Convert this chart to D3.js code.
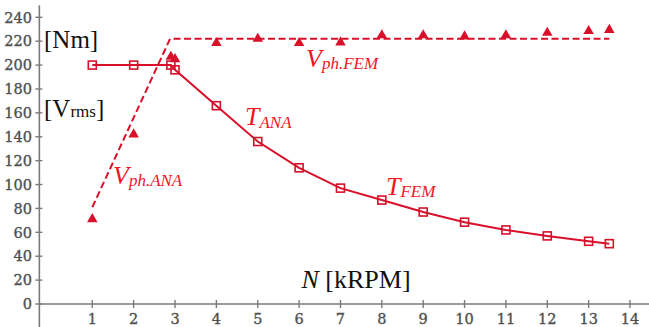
<!DOCTYPE html>
<html><head><meta charset="utf-8">
<script src="https://cdn.jsdelivr.net/npm/d3@7"></script>
<style>html,body{margin:0;padding:0;background:#fff;overflow:hidden}
.tick{font-family:"DejaVu Serif","Liberation Serif",serif}
.lbl{font-family:"Liberation Serif","Times New Roman",serif}
</style>
</head><body>
<svg id="chart" width="649" height="327"></svg>
<script>
// ---- data ----
const xTicks = [1,2,3,4,5,6,7,8,9,10,11,12,13,14];
const yTicks = [0,20,40,60,80,100,120,140,160,180,200,220,240];
const torqueN = [1,2,2.9,3,4,5,6,7,8,9,10,11,12,13,13.5];
const torqueT = [200,200,200,196,166,136,114,97,87,77,68.5,62,57,52.5,50.5];
const vFemN = [1,2,2.9,3,4,5,6,7,8,9,10,11,12,13,13.5];
const vFemV = [71,142,207,205,218.5,222,218.5,219,225,225,224,225,227,228.5,229.5];
const vAnaN = [1,2.88,13.5];
const vAnaV = [81,222,222];

const red = "#d8102a", labelRed = "#f5141e", axisGray = "#7a7a7a", tickGray = "#505050";
const svg = d3.select("#chart");
const x = d3.scaleLinear().domain([1,14]).range([92.3,630]);
const y = d3.scaleLinear().domain([0,240]).range([304,17.3]);

// axes lines
svg.append("line").attr("x1", x(-0.28)).attr("x2", 649).attr("y1", y(0)).attr("y2", y(0))
  .attr("stroke", axisGray).attr("stroke-width", 1.6);
svg.append("line").attr("x1", x(-0.28)).attr("x2", x(-0.28)).attr("y1", y(250)).attr("y2", 327)
  .attr("stroke", axisGray).attr("stroke-width", 1.6);

// y ticks
const yt = svg.append("g");
yTicks.forEach(v => {
  yt.append("line").attr("x1", x(-0.28)-4).attr("x2", x(-0.28)+3).attr("y1", y(v)).attr("y2", y(v))
    .attr("stroke", axisGray).attr("stroke-width", 1.4);
  yt.append("text").attr("class","tick").attr("x", 32).attr("y", y(v)).attr("dy", "0.36em").attr("text-anchor", "end")
    .attr("font-size", 14.5).attr("fill", tickGray).attr("stroke", tickGray).attr("stroke-width", 0.35).text(v);
});
// x ticks
const xt = svg.append("g");
xTicks.forEach(v => {
  xt.append("line").attr("x1", x(v)).attr("x2", x(v)).attr("y1", y(0)-4).attr("y2", y(0)+4)
    .attr("stroke", axisGray).attr("stroke-width", 1.4);
  xt.append("text").attr("class","tick").attr("x", x(v)).attr("y", 324).attr("text-anchor", "middle")
    .attr("font-size", 14.5).attr("fill", tickGray).attr("stroke", tickGray).attr("stroke-width", 0.35).text(v);
});

// lines
const line = d3.line().x(d => x(d[0])).y(d => y(d[1]));
svg.append("path").datum(vAnaN.map((n,i)=>[n,vAnaV[i]])).attr("d", line)
  .attr("fill","none").attr("stroke", red).attr("stroke-width", 2).attr("stroke-dasharray","7,3.5");
svg.append("path").datum(torqueN.map((n,i)=>[n,torqueT[i]])).attr("d", line)
  .attr("fill","none").attr("stroke", red).attr("stroke-width", 2);

// square markers
svg.append("g").selectAll("rect").data(torqueN.map((n,i)=>[n,torqueT[i]])).join("rect")
  .attr("x", d => x(d[0])-4).attr("y", d => y(d[1])-4).attr("width", 8).attr("height", 8)
  .attr("fill","none").attr("stroke", red).attr("stroke-width", 1.6);
// triangle markers
const tri = d3.symbol().type(d3.symbolTriangle).size(48);
svg.append("g").selectAll("path").data(vFemN.map((n,i)=>[n,vFemV[i]])).join("path")
  .attr("d", tri).attr("transform", d => `translate(${x(d[0])},${y(d[1])})`)
  .attr("fill", red);

// labels
function lab(xp, yp, main, sub, color, mainSize, subSize, subDy) {
  const t = svg.append("text").attr("class","lbl").attr("x", xp).attr("y", yp).attr("fill", color);
  t.append("tspan").attr("font-size", mainSize).attr("font-style", "italic").text(main);
  t.append("tspan").attr("font-size", subSize).attr("font-style", "italic").attr("dy", subDy).text(sub);
  return t;
}
lab(245, 125, "T", "ANA", labelRed, 26, 17, 2.5);
lab(113, 183.5, "V", "ph.ANA", labelRed, 26, 17, 2.5);
lab(306, 66.5, "V", "ph.FEM", labelRed, 26, 17, 2.5);
lab(386, 195, "T", "FEM", labelRed, 26, 17, 1.5);

// black unit labels
svg.append("text").attr("class","lbl").attr("x", 44).attr("y", 48)
  .attr("font-size", 25).attr("fill","#111").text("[Nm]");
const vr = svg.append("text").attr("class","lbl").attr("x", 44).attr("y", 116.5).attr("fill","#111");
vr.append("tspan").attr("font-size", 25).text("[V");
vr.append("tspan").attr("font-size", 17).text("rms");
vr.append("tspan").attr("font-size", 25).text("]");
const xl = svg.append("text").attr("class","lbl").attr("x", 301.5).attr("y", 287.5).attr("fill","#111");
xl.append("tspan").attr("font-size", 26).attr("font-style","italic").text("N");
xl.append("tspan").attr("font-size", 26).text(" [kRPM]");
</script>
</body></html>
